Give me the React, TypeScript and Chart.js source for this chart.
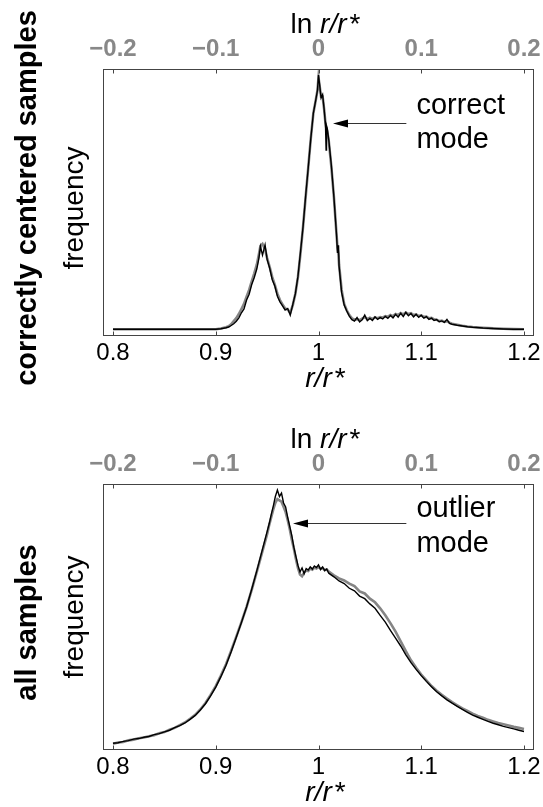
import React, { useEffect, useRef } from 'react';
import { Chart, registerables } from 'chart.js';

Chart.register(...registerables);

const FONT = '"Liberation Sans", Arial, Helvetica, sans-serif';

// ---------- axis ticks ----------
const bottomTicks = [0.8, 0.9, 1.0, 1.1, 1.2];
const bottomTickLabels = ['0.8', '0.9', '1', '1.1', '1.2'];
const topTicks = [-0.2, -0.1, 0, 0.1, 0.2];
const topTickLabels = ['\u22120.2', '\u22120.1', '0', '0.1', '0.2'];

// ---------- panel 1: correctly centered samples ----------
const r1 = [
  0.8, 0.85, 0.9, 0.905, 0.91, 0.9125, 0.915, 0.9175, 0.92, 0.9225,
  0.925, 0.9275, 0.93, 0.9325, 0.935, 0.9375, 0.94, 0.942, 0.9435, 0.9455,
  0.948, 0.95, 0.9525, 0.955, 0.9575, 0.96, 0.9625, 0.965, 0.9675, 0.97,
  0.9725, 0.975, 0.9775, 0.98, 0.9825, 0.985, 0.9875, 0.99, 0.9925, 0.995,
  0.9975, 0.999, 1.0, 1.001, 1.0025, 1.004, 1.0055, 1.0068, 1.0074, 1.0078,
  1.0085, 1.01, 1.0125, 1.015, 1.0175, 1.0185, 1.0195, 1.02, 1.0225, 1.025,
  1.0275, 1.03, 1.0325, 1.035, 1.0375, 1.04, 1.0425, 1.045, 1.0475, 1.05,
  1.0525, 1.055, 1.0575, 1.06, 1.0625, 1.065, 1.0675, 1.07, 1.0725, 1.075,
  1.0775, 1.08, 1.0825, 1.085, 1.0875, 1.09, 1.0925, 1.095, 1.0975, 1.1,
  1.1025, 1.105, 1.1075, 1.11, 1.1125, 1.115, 1.1175, 1.12, 1.1225, 1.125,
  1.1275, 1.13, 1.135, 1.14, 1.145, 1.15, 1.16, 1.17, 1.18, 1.19,
  1.2,
];
const black1 = [
  0, 0, 0, 0.2, 0.6, 0.9, 1.5, 2.2, 3.2, 4.5,
  6.5, 8.0, 11.5, 13.8, 17.6, 20.4, 23.8, 28.0, 32.6, 29.2,
  33.2, 27.5, 24.0, 19.5, 17.0, 13.0, 10.8, 9.2, 7.6, 8.2,
  5.6, 9.8, 14.0, 20.8, 30.5, 40.5, 52.5, 63.5, 75.0, 85.0,
  90.5, 94.0, 100, 96.5, 91.0, 92.3, 86.5, 80.5, 70.5, 80.0,
  79.0, 74.5, 64.5, 52.0, 37.5, 30.0, 33.0, 25.0, 14.5, 9.5,
  7.2, 5.2, 3.8, 3.2, 4.6, 2.9, 3.7, 5.6, 3.4, 4.3,
  3.5, 4.9, 3.9, 4.6, 4.1, 5.1, 4.3, 5.4, 4.5, 5.9,
  4.8, 6.3, 5.0, 6.7, 5.3, 6.2, 4.9, 5.9, 4.7, 5.5,
  4.4, 5.0, 3.9, 4.4, 3.5, 3.8, 3.0, 3.3, 2.7, 3.9,
  2.3, 2.0, 1.6, 1.3, 1.0, 0.8, 0.5, 0.3, 0.15, 0.05,
  0,
];
const gray1 = [
  0, 0, 0, 0.3, 0.8, 1.2, 2.0, 3.2, 4.4, 6.0,
  8.0, 10.0, 12.8, 15.5, 18.8, 22.0, 25.5, 29.5, 32.8, 33.6,
  31.5, 28.0, 24.5, 20.5, 17.5, 14.0, 11.5, 9.8, 8.2, 7.8,
  6.5, 9.5, 14.0, 20.5, 30.0, 40.5, 52.0, 63.5, 75.0, 85.0,
  90.5, 94.0, 99.0, 96.0, 91.5, 91.5, 86.5, 81.0, 79.5, 79.0,
  78.0, 74.0, 64.0, 52.0, 37.5, 32.0, 29.0, 25.5, 15.5, 10.0,
  7.5, 5.6, 4.3, 3.8, 4.0, 3.6, 4.2, 4.8, 4.0, 4.6,
  4.1, 4.7, 4.4, 4.8, 4.6, 5.2, 4.9, 5.6, 5.2, 6.0,
  5.6, 6.4, 5.9, 6.6, 6.0, 6.3, 5.6, 5.9, 5.2, 5.5,
  4.9, 5.0, 4.3, 4.5, 3.9, 3.8, 3.2, 3.4, 2.9, 3.2,
  2.6, 2.2, 1.8, 1.4, 1.1, 0.9, 0.6, 0.35, 0.2, 0.08,
  0,
];

// ---------- panel 2: all samples ----------
const r2 = [
  0.8, 0.805, 0.81, 0.815, 0.82, 0.825, 0.83, 0.835, 0.84, 0.845,
  0.85, 0.855, 0.86, 0.865, 0.87, 0.875, 0.88, 0.885, 0.89, 0.895,
  0.9, 0.905, 0.91, 0.915, 0.92, 0.925, 0.93, 0.935, 0.94, 0.945,
  0.95, 0.952, 0.954, 0.956, 0.958, 0.96, 0.962, 0.964, 0.966, 0.968,
  0.97, 0.972, 0.974, 0.976, 0.978, 0.98, 0.982, 0.984, 0.986, 0.988,
  0.99, 0.992, 0.994, 0.996, 0.998, 1.0, 1.002, 1.004, 1.006, 1.008,
  1.01, 1.015, 1.02, 1.025, 1.03, 1.035, 1.04, 1.045, 1.05, 1.055,
  1.06, 1.065, 1.07, 1.075, 1.08, 1.085, 1.09, 1.095, 1.1, 1.105,
  1.11, 1.115, 1.12, 1.125, 1.13, 1.135, 1.14, 1.145, 1.15, 1.155,
  1.16, 1.165, 1.17, 1.175, 1.18, 1.185, 1.19, 1.195, 1.2,
];
const black2 = [
  2.6, 2.8, 3.3, 3.6, 4.2, 4.4, 4.9, 5.2, 5.9, 6.3,
  7.0, 7.6, 8.6, 9.4, 10.4, 11.8, 13.3, 15.4, 17.8, 20.8,
  24.2, 28.2, 32.6, 37.8, 43.4, 49.0, 55.0, 61.8, 69.0, 76.5,
  84.0, 87.0, 90.5, 93.8, 97.5, 100, 97.5, 98.8, 95.0, 93.5,
  89.5, 86.0, 82.5, 78.0, 74.5, 71.0, 68.5, 70.0, 67.8, 69.8,
  69.2, 70.4, 69.6, 70.8, 70.2, 71.2, 69.4, 70.4, 69.0, 69.6,
  68.0, 66.6, 65.0, 64.0, 62.2, 61.2, 59.2, 58.2, 56.2, 54.5,
  51.8, 49.2, 46.0, 43.0, 40.0, 36.6, 33.6, 31.0, 28.6, 26.4,
  24.3, 22.4, 20.8, 19.3, 18.0, 16.8, 15.6, 14.5, 13.4, 12.6,
  11.8, 11.0, 10.3, 9.7, 9.1, 8.6, 8.1, 7.6, 7.1,
];
const gray2 = [
  2.4, 2.9, 3.1, 3.7, 4.0, 4.5, 4.8, 5.3, 5.7, 6.4,
  6.9, 7.8, 8.5, 9.6, 10.6, 12.0, 13.5, 15.6, 18.1, 21.2,
  24.6, 28.6, 33.0, 38.2, 43.6, 49.2, 55.0, 61.6, 68.6, 75.8,
  83.0, 86.5, 89.5, 92.5, 95.0, 96.5, 96.0, 95.5, 93.5, 91.5,
  88.5, 85.0, 81.0, 77.5, 73.5, 70.0, 67.5, 66.8, 68.2, 69.0,
  68.8, 69.8, 69.4, 70.2, 69.8, 70.4, 69.8, 70.0, 69.2, 69.4,
  68.6, 67.2, 66.0, 65.2, 64.0, 63.0, 61.0, 60.2, 58.2, 56.8,
  54.5, 51.8, 48.8, 45.5, 41.8, 38.0, 34.5, 31.6, 29.0, 26.8,
  24.6, 22.8, 21.2, 19.8, 18.4, 17.2, 16.0, 15.0, 14.0, 13.1,
  12.4, 11.6, 11.0, 10.4, 9.9, 9.4, 8.9, 8.5, 8.1,
];

// ---------- layout / style config ----------
type PanelCfg = {
  height: number;
  topAxisH: number;
  bottomAxisH: number;
  yMin: number;
  yMax: number;
  side: string;
  sideY: number;
  freqY: number;
  note: [string, string];
  noteBase: [number, number];
  arrowDy: number;
  arrowTip: number;
  r: number[];
  black: number[];
  gray: number[];
};

const panels: PanelCfg[] = [
  {
    height: 400, topAxisH: 69, bottomAxisH: 64, yMin: -2.63, yMax: 102.36,
    side: 'correctly centered samples', sideY: 198, freqY: 208,
    note: ['correct', 'mode'], noteBase: [44.5, 78.5], arrowDy: 54, arrowTip: 1.0141,
    r: r1, black: black1, gray: gray1,
  },
  {
    height: 407, topAxisH: 84, bottomAxisH: 57, yMin: 0, yMax: 102.3,
    side: 'all samples', sideY: 222.5, freqY: 217,
    note: ['outlier', 'mode'], noteBase: [32.5, 67.5], arrowDy: 39, arrowTip: 0.9752,
    r: r2, black: black2, gray: gray2,
  },
];

const X_MIN = 0.79027;
const X_MAX = 1.20973;

function drawTitle(ctx: CanvasRenderingContext2D, cx: number, baseY: number, withLn: boolean) {
  const parts: { t: string; f: string }[] = [];
  if (withLn) parts.push({ t: 'ln ', f: `28px ${FONT}` });
  parts.push({ t: 'r/r', f: `italic 28px ${FONT}` });
  let w = 0;
  for (const p of parts) { ctx.font = p.f; w += ctx.measureText(p.t).width; }
  let x = cx - w / 2;
  ctx.textAlign = 'left';
  ctx.textBaseline = 'alphabetic';
  ctx.fillStyle = '#000';
  for (const p of parts) { ctx.font = p.f; ctx.fillText(p.t, x, baseY); x += ctx.measureText(p.t).width; }
  ctx.font = `28px ${FONT}`;
  ctx.fillText('*', x + 3, baseY);
}

function makeDecor(cfg: PanelCfg) {
  return {
    id: 'decor',
    afterDatasetsDraw(chart: any) {
      const { ctx, chartArea: a, scales } = chart;
      const xs = scales.x;
      const xt = scales.xTop;
      ctx.save();
      // frame
      ctx.strokeStyle = '#444';
      ctx.lineWidth = 1;
      const L = Math.round(a.left) + 0.5, T = Math.round(a.top) + 0.5;
      const R = Math.round(a.right) - 0.5, B = Math.round(a.bottom) - 0.5;
      ctx.strokeRect(L, T, R - L, B - T);
      // inward tick marks
      ctx.beginPath();
      for (const v of bottomTicks) {
        const x = Math.round(xs.getPixelForValue(v)) + 0.5;
        ctx.moveTo(x, B); ctx.lineTo(x, B - 4);
      }
      for (const v of topTicks) {
        const x = Math.round(xt.getPixelForValue(v)) + 0.5;
        ctx.moveTo(x, T); ctx.lineTo(x, T + 4);
      }
      ctx.stroke();
      // axis titles
      const cx = (a.left + a.right) / 2;
      drawTitle(ctx, cx, a.top - 35.7, true);
      drawTitle(ctx, cx, a.bottom + 51, false);
      // side labels
      ctx.fillStyle = '#000';
      ctx.textAlign = 'center';
      ctx.textBaseline = 'alphabetic';
      ctx.save();
      ctx.translate(36, cfg.sideY);
      ctx.rotate(-Math.PI / 2);
      ctx.font = `bold 29px ${FONT}`;
      ctx.fillText(cfg.side, 0, 0);
      ctx.restore();
      ctx.save();
      ctx.translate(83, cfg.freqY);
      ctx.rotate(-Math.PI / 2);
      ctx.font = `28px ${FONT}`;
      ctx.fillText('frequency', 0, 0);
      ctx.restore();
      // annotation
      const textX = xs.getPixelForValue(1.0953);
      ctx.font = `29px ${FONT}`;
      ctx.textAlign = 'left';
      ctx.fillText(cfg.note[0], textX, a.top + cfg.noteBase[0]);
      ctx.fillText(cfg.note[1], textX, a.top + cfg.noteBase[1]);
      const ay = Math.round(a.top + cfg.arrowDy) + 0.5;
      const tail = xs.getPixelForValue(1.0855);
      const tip = xs.getPixelForValue(cfg.arrowTip);
      ctx.strokeStyle = '#333';
      ctx.lineWidth = 1;
      ctx.beginPath();
      ctx.moveTo(tail, ay); ctx.lineTo(tip + 12, ay);
      ctx.stroke();
      ctx.fillStyle = '#000';
      ctx.beginPath();
      ctx.moveTo(tip, ay);
      ctx.lineTo(tip + 15, ay - 4);
      ctx.lineTo(tip + 15, ay + 4);
      ctx.closePath();
      ctx.fill();
      ctx.restore();
    },
  };
}

function makeChart(canvas: HTMLCanvasElement, cfg: PanelCfg) {
  const pts = (ys: number[]) => cfg.r.map((x, i) => ({ x, y: ys[i] }));
  return new Chart(canvas, {
    type: 'line',
    data: {
      datasets: [
        {
          data: pts(cfg.black), borderColor: '#000', borderWidth: 1.4,
          pointRadius: 0, tension: 0, order: 0, xAxisID: 'x', yAxisID: 'y',
        },
        {
          data: pts(cfg.gray), borderColor: '#858585', borderWidth: 2.6,
          pointRadius: 0, tension: 0, order: 1, xAxisID: 'x', yAxisID: 'y',
        },
      ],
    },
    options: {
      responsive: false,
      animation: false,
      events: [],
      layout: { padding: { left: 103, right: 9, top: 0, bottom: 0 } },
      plugins: { legend: { display: false }, tooltip: { enabled: false } },
      scales: {
        x: {
          type: 'linear', position: 'bottom', min: X_MIN, max: X_MAX,
          grid: { display: false, drawTicks: false },
          border: { display: false },
          afterBuildTicks: (s: any) => { s.ticks = bottomTicks.map((v) => ({ value: v })); },
          afterFit: (s: any) => { s.height = cfg.bottomAxisH; s.paddingLeft = 0; s.paddingRight = 0; },
          ticks: {
            autoSkip: false, maxRotation: 0, minRotation: 0, padding: 5, color: '#000',
            font: { family: FONT, size: 24, lineHeight: 1 },
            callback: (_v: any, i: number) => bottomTickLabels[i],
          },
        },
        xTop: {
          type: 'linear', position: 'top', min: -0.20973, max: 0.20973,
          grid: { display: false, drawTicks: false },
          border: { display: false },
          afterBuildTicks: (s: any) => { s.ticks = topTicks.map((v) => ({ value: v })); },
          afterFit: (s: any) => { s.height = cfg.topAxisH; s.paddingLeft = 0; s.paddingRight = 0; },
          ticks: {
            autoSkip: false, maxRotation: 0, minRotation: 0, padding: 8, color: '#888',
            font: { family: FONT, size: 24, weight: 'bold', lineHeight: 1 },
            callback: (_v: any, i: number) => topTickLabels[i],
          },
        },
        y: { display: false, min: cfg.yMin, max: cfg.yMax },
      },
    } as any,
    plugins: [makeDecor(cfg)],
  });
}

export default function App() {
  const ref1 = useRef<HTMLCanvasElement>(null);
  const ref2 = useRef<HTMLCanvasElement>(null);
  useEffect(() => {
    const c1 = makeChart(ref1.current!, panels[0]);
    const c2 = makeChart(ref2.current!, panels[1]);
    return () => { c1.destroy(); c2.destroy(); };
  }, []);
  return (
    <div style={{ position: 'absolute', left: 0, top: 0, width: 543, height: 807, background: '#fff' }}>
      <canvas ref={ref1} width={543} height={400}
        style={{ position: 'absolute', left: 0, top: 0, width: 543, height: 400 }} />
      <canvas ref={ref2} width={543} height={407}
        style={{ position: 'absolute', left: 0, top: 400, width: 543, height: 407 }} />
    </div>
  );
}
